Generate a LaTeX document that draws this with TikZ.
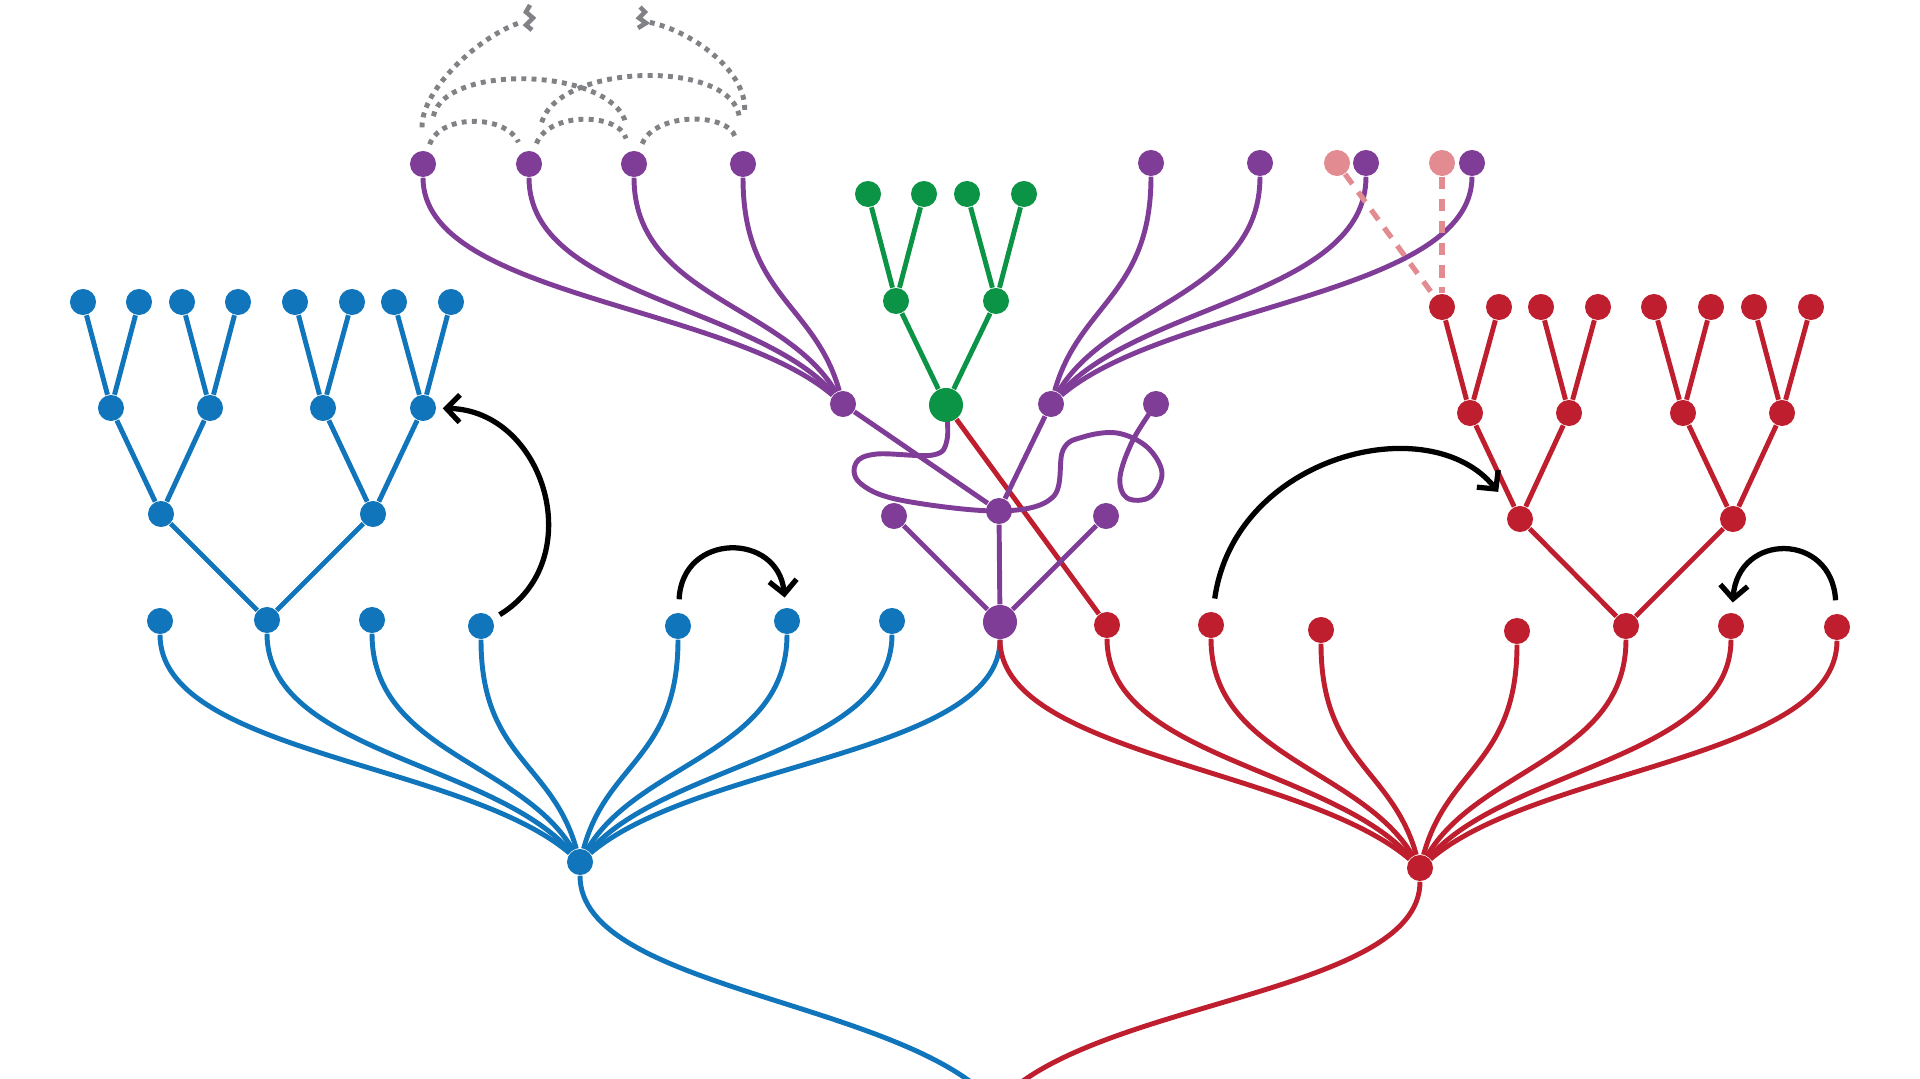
\documentclass[tikz,border=0pt]{standalone}
\usepackage{tikz}
\usetikzlibrary{arrows.meta,backgrounds}

\definecolor{cblue}{RGB}{17,117,188}
\definecolor{cred}{RGB}{190,30,45}
\definecolor{cpurple}{RGB}{127,61,152}
\definecolor{cgreen}{RGB}{12,148,70}
\definecolor{cpink}{RGB}{226,140,146}
\definecolor{cgray}{RGB}{128,130,133}

\begin{document}
\begin{tikzpicture}[x=0.01cm,y=-0.01cm,
  nd/.style={circle,fill=#1,inner sep=0pt,minimum size=0.26cm},
  bignd/.style={circle,fill=#1,inner sep=0pt,minimum size=0.34cm},
  ln/.style={line width=1.4pt,draw=#1},
  hop/.style={line width=1.5pt,-{Straight Barb[length=3.8pt,width=7.8pt]}},
  tie/.style={line width=1.4pt,draw=cgray,dash pattern=on 1.4pt off 1.5pt},
  ghost/.style={line width=1.5pt,draw=cpink,dash pattern=on 3.5pt off 2.8pt}]
  \useasboundingbox (0,0) rectangle (1920,1079);

  % blue tree and row
  \foreach \i/\x in {1/83,2/139,3/182,4/238,5/295,6/352,7/394,8/451}
    \node[nd=cblue] (bl\i) at (\x,302) {};
  \foreach \i/\x in {1/111,2/210,3/323,4/423}
    \node[nd=cblue] (bm\i) at (\x,408) {};
  \node[nd=cblue] (bn1) at (161,514) {};
  \node[nd=cblue] (bn2) at (373,514) {};
  \foreach \i/\x/\y in {1/160/621,2/267/620,3/372/620,4/481/626,5/678/626,6/787/621,7/892/621}
    \node[nd=cblue] (b\i) at (\x,\y) {};
  \node[nd=cblue] (bhub) at (580,862) {};

  % red tree and row
  \foreach \i/\x in {1/1442,2/1499,3/1541,4/1598,5/1654,6/1711,7/1754,8/1811}
    \node[nd=cred] (rl\i) at (\x,307) {};
  \foreach \i/\x in {1/1470,2/1569,3/1683,4/1782}
    \node[nd=cred] (rm\i) at (\x,413) {};
  \node[nd=cred] (rn1) at (1520,519) {};
  \node[nd=cred] (rn2) at (1733,519) {};
  \foreach \i/\x/\y in {1/1107/625,2/1211/625,3/1321/630,4/1517/631,5/1626/626,6/1731/626,7/1837/627}
    \node[nd=cred] (r\i) at (\x,\y) {};
  \node[nd=cred] (rhub) at (1420,868) {};

  % green tree
  \foreach \i/\x in {1/868,2/924,3/967,4/1024}
    \node[nd=cgreen] (gl\i) at (\x,194) {};
  \node[nd=cgreen] (gm1) at (896,301) {};
  \node[nd=cgreen] (gm2) at (996,301) {};
  \node[bignd=cgreen] (groot) at (946,405) {};

  % purple
  \foreach \i/\x in {1/423,2/529,3/634,4/743}
    \node[nd=cpurple] (t\i) at (\x,164) {};
  \foreach \i/\x in {1/1151,2/1260,3/1366,4/1472}
    \node[nd=cpurple] (q\i) at (\x,163) {};
  \node[nd=cpink] (k1) at (1337,163) {};
  \node[nd=cpink] (k2) at (1442,163) {};
  \node[nd=cpurple] (pl) at (843,404) {};
  \node[nd=cpurple] (pr) at (1051,404) {};
  \node[nd=cpurple] (pe) at (1156,404) {};
  \node[nd=cpurple] (pc) at (999,511) {};
  \node[nd=cpurple] (ps1) at (894,516) {};
  \node[nd=cpurple] (ps2) at (1106,516) {};
  \node[bignd=cpurple] (pbig) at (1000,622) {};

  \coordinate (base) at (996,1105);
  \coordinate (zl) at (522,22);
  \coordinate (zr) at (648,22);

  \begin{pgfonlayer}{background}
    \clip (0,0) rectangle (1920,1079);
    \foreach \a/\b in {bl1/bm1,bl2/bm1,bl3/bm2,bl4/bm2,bl5/bm3,bl6/bm3,bl7/bm4,bl8/bm4,bm1/bn1,bm2/bn1,bm3/bn2,bm4/bn2,bn1/b2,bn2/b2}
      \draw[ln=cblue] (\a) -- (\b);
    \foreach \a/\b in {rl1/rm1,rl2/rm1,rl3/rm2,rl4/rm2,rl5/rm3,rl6/rm3,rl7/rm4,rl8/rm4,rm1/rn1,rm2/rn1,rm3/rn2,rm4/rn2,rn1/r5,rn2/r5}
      \draw[ln=cred] (\a) -- (\b);
    \foreach \a/\b in {gl1/gm1,gl2/gm1,gl3/gm2,gl4/gm2,gm1/groot,gm2/groot}
      \draw[ln=cgreen] (\a) -- (\b);

    \foreach \a/\c in {b1/-118,b2/-88,b3/-58,b4/-28,b5/27,b6/58,b7/87,pbig/118}
      \draw[ln=cblue] (\a) .. controls +(0,132) and +(\c,-100) .. (bhub);
    \foreach \a/\c in {pbig/-118,r1/-88,r2/-59,r3/-28,r4/27,r5/58,r6/87,r7/117}
      \draw[ln=cred] (\a) .. controls +(0,132) and +(\c,-100) .. (rhub);
    \foreach \a/\c in {t1/-118,t2/-88,t3/-59,t4/-28}
      \draw[ln=cpurple] (\a) .. controls +(0,132) and +(\c,-100) .. (pl);
    \foreach \a/\c in {q1/28,q2/59,q3/88,q4/118}
      \draw[ln=cpurple] (\a) .. controls +(0,132) and +(\c,-100) .. (pr);
    \draw[ln=cblue] (bhub) .. controls +(0,128) and +(-90,-105) .. (base);
    \draw[ln=cred] (rhub) .. controls +(0,128) and +(90,-105) .. (base);

    \draw[ln=cred] (groot) -- (r1);
    \foreach \a/\b in {pl/pc,pr/pc,pc/pbig,ps1/pbig,ps2/pbig}
      \draw[ln=cpurple] (\a) -- (\b);
    \draw[ln=cpurple] plot[smooth,tension=0.6] coordinates {(groot.center) (947,440) (933,455) (877,454)
      (856,463) (860,483) (900,500) (pc.center) (1053,497) (1063,450) (1083,437) (1117,433) (1147,447)
      (1162,473) (1150,497) (1127,498) (1120,477) (1133,440) (pe.center)};

    \draw[ghost] (k1) -- (rl1);
    \draw[ghost] (k2) -- (rl1);
  \end{pgfonlayer}

  \draw[tie,shorten <=2pt,shorten >=3pt] (t1) .. controls +(17,-50) and +(-24,-50) .. (t2);
  \draw[tie,shorten <=2.3pt,shorten >=3.7pt] (t2) .. controls +(19,-52) and +(-16,-52) .. (t3);
  \draw[tie,shorten <=2.3pt,shorten >=4pt] (t3) .. controls +(21,-52) and +(-15,-52) .. (t4);
  \draw[tie,shorten <=10pt,shorten >=7.4pt] (t1) .. controls +(22,-102) and +(-19,-96) .. (t3);
  \draw[tie,shorten <=8.5pt,shorten >=9pt] (t2) .. controls +(31,-102) and +(-8,-105) .. (t4);
  \draw[tie,shorten <=6.5pt] (t1) .. controls +(-2,-74) and +(-42,13) .. (zl);
  \draw[tie,shorten <=11.5pt] (t4) .. controls +(3,-94) and +(42,8) .. (zr);
  \draw[line width=1.3pt,cgray] (530,5) -- (526,12) -- (533,18) -- (526,25) -- (532,30);
  \draw[line width=1.3pt,cgray] (640,7) -- (645,12) -- (639,18) -- (646,23) -- (638,28);

  \draw[hop,shorten <=2.3pt,shorten >=1.7pt] (b4) .. controls +(109,-66) and +(122,2) .. (bm4);
  \draw[hop,shorten <=3.7pt,shorten >=2.8pt] (b5) .. controls +(4,-94) and +(-9,-89) .. (b6);
  \draw[hop,shorten <=3.7pt,shorten >=6pt] (r2) .. controls +(24,-170) and +(-90,-112) .. (rn1);
  \draw[hop,shorten <=3.7pt,shorten >=2.8pt] (r7) .. controls +(-5,-95) and +(7,-94) .. (r6);
\end{tikzpicture}
\end{document}
